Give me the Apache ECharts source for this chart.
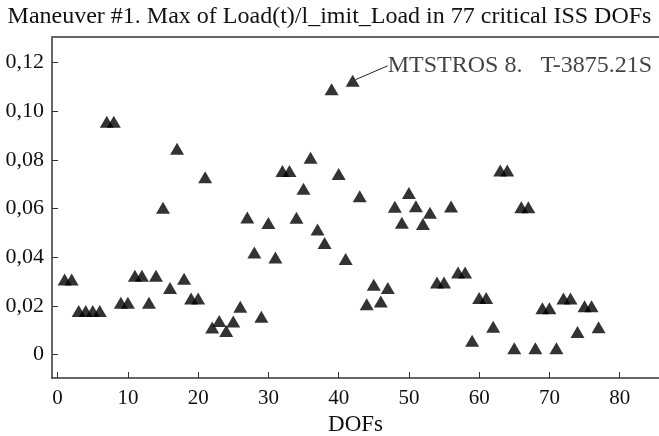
<!DOCTYPE html>
<html>
<head>
<meta charset="utf-8">
<style>
  html, body { margin: 0; padding: 0; background: #fff; }
  #chart { width: 659px; height: 436px; }
</style>
<script src="https://cdn.jsdelivr.net/npm/echarts@6/dist/echarts.min.js"></script>
</head>
<body>
<div id="chart"></div>
<script>
// --- data ---
const dofs = Array.from({length: 77}, (_, i) => i + 1)
const maxLoad = [
  0.0308, 0.0308, 0.0179, 0.0179, 0.0179, 0.0179, 0.0956, 0.0956, 0.0213, 0.0213,
  0.0324, 0.0324, 0.0213, 0.0324, 0.0603, 0.0274, 0.0845, 0.0311, 0.0230, 0.0230,
  0.0728, 0.0111, 0.0138, 0.0097, 0.0136, 0.0197, 0.0563, 0.0419, 0.0155, 0.0540,
  0.0399, 0.0754, 0.0754, 0.0562, 0.0681, 0.0808, 0.0514, 0.0458, 0.1089, 0.0742,
  0.0393, 0.1124, 0.0650, 0.0207, 0.0287, 0.0218, 0.0274, 0.0607, 0.0541, 0.0664,
  0.0609, 0.0536, 0.0582, 0.0296, 0.0296, 0.0608, 0.0337, 0.0337, 0.0057, 0.0232,
  0.0232, 0.0114, 0.0756, 0.0756, 0.0026, 0.0605, 0.0605, 0.0026, 0.0190, 0.0190,
  0.0026, 0.0230, 0.0230, 0.0093, 0.0199, 0.0199, 0.0112
]
const annotatedDof = 42
const annotationText = 'MTSTROS 8.   T-3875.21S'
const titleText = 'Maneuver #1. Max of Load(t)/l_imit_Load in 77 critical ISS DOFs'

const serif = 'Liberation Serif'
const axisColor = '#333'

const points = dofs.map((d, i) => {
  const item = {value: [d, maxLoad[i]]}
  if (d === annotatedDof) {
    item.label = {
      show: true,
      position: 'right',
      distance: 4,
      formatter: annotationText,
      fontFamily: serif,
      fontSize: 24,
      color: '#111'
    }
    item.labelLine = {show: true, lineStyle: {color: '#222', width: 1}}
  }
  return item
})

const chart = echarts.init(document.getElementById('chart'))
chart.setOption({
  animation: false,
  title: {
    text: titleText,
    left: 'center',
    top: 0,
    textStyle: {fontFamily: serif, fontWeight: 'normal', fontSize: 24, color: '#111'}
  },
  grid: {left: 52, right: 0, top: 37, bottom: 58, outerBoundsMode: 'none', containLabel: false},
  xAxis: [
    {
      type: 'value',
      min: -0.8,
      max: 85.6,
      splitNumber: 8,
      name: 'DOFs',
      nameLocation: 'middle',
      nameGap: 33,
      nameTextStyle: {fontFamily: serif, fontSize: 23, color: '#111'},
      axisLine: {onZero: false, lineStyle: {color: axisColor, width: 1.5}},
      axisTick: {inside: true, length: 6, lineStyle: {color: axisColor}},
      axisLabel: {
        fontFamily: serif, fontSize: 21, color: '#111', margin: 10,
        showMinLabel: false, showMaxLabel: false
      },
      splitLine: {show: false}
    },
    {
      // top frame line
      type: 'value',
      position: 'top',
      min: -0.8,
      max: 85.6,
      axisLine: {show: true, onZero: false, lineStyle: {color: '#666', width: 2}},
      axisTick: {show: false},
      axisLabel: {show: false},
      splitLine: {show: false}
    }
  ],
  yAxis: {
    type: 'value',
    min: -0.0096,
    max: 0.1304,
    splitNumber: 7,
    axisLine: {show: true, onZero: false, lineStyle: {color: axisColor, width: 1.5}},
    axisTick: {show: true, inside: true, length: 6, lineStyle: {color: axisColor}},
    axisLabel: {
      fontFamily: serif, fontSize: 22, color: '#111', margin: 8,
      showMinLabel: false, showMaxLabel: false,
      formatter: v => v === 0 ? '0' : v.toFixed(2).replace('.', ',')
    },
    splitLine: {show: false}
  },
  series: [
    {
      type: 'scatter',
      symbol: 'triangle',
      symbolSize: [14, 12],
      itemStyle: {color: '#000'},
      labelLayout: params => params.dataIndex === annotatedDof - 1 ? {dx: 24, dy: -15} : {},
      data: points
    }
  ]
})
</script>
</body>
</html>
